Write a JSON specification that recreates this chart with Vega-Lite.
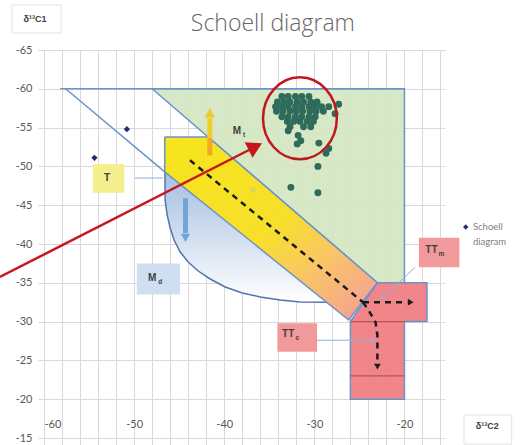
{
  "$schema": "https://vega.github.io/schema/vega-lite/v6.json",
  "width": 401,
  "height": 388,
  "autosize": {"type": "none"},
  "padding": {"left": 44, "top": 50, "right": 80, "bottom": 7},
  "background": "white",
  "config": {"view": {"stroke": null}, "font": "Lato"},
  "encoding": {
    "x": {"field": "x", "type": "quantitative",
      "scale": {"domain": [-60, -15.5], "nice": false, "zero": false},
      "axis": {"title": null, "values": [-60,-58,-56,-54,-52,-50,-48,-46,-44,-42,-40,-38,-36,-34,-32,-30,-28,-26,-24,-22,-20,-18,-16],
        "labelExpr": "datum.value % 10 === 0 ? '' + datum.value : ''",
        "grid": true, "gridColor": "#d9d9d9", "ticks": true, "tickColor": "#d9d9d9", "tickSize": 7,
        "domain": false, "labelPadding": -27, "labelFontSize": 11, "labelColor": "#595959", "labelFont": "Lato"}},
    "y": {"field": "y", "type": "quantitative",
      "scale": {"domain": [-65, -15], "nice": false, "zero": false, "reverse": true},
      "axis": {"title": null, "values": [-65,-60,-55,-50,-45,-40,-35,-30,-25,-20,-15],
        "labelExpr": "'' + datum.value",
        "grid": true, "gridColor": "#d9d9d9", "ticks": true, "tickColor": "#d9d9d9", "tickSize": 6,
        "domain": false, "labelPadding": 6, "labelFontSize": 11, "labelColor": "#595959", "labelFont": "Lato"}}
  },
  "layer": [
    {
      "data": {"values": [{"x": -48, "y": -60, "i": 0}, {"x": -20, "y": -60, "i": 1}, {"x": -20, "y": -35, "i": 2}, {"x": -23, "y": -35, "i": 3}, {"x": -48, "y": -60, "i": 4}]},
      "mark": {"type": "line", "fill": "#d3e6c1", "fillOpacity": 0.9, "stroke": "#6a93cb", "strokeWidth": 1.5},
      "encoding": {"order": {"field": "i"}}
    },
    {
      "data": {"values": [
        {"x": -46.6, "y": -53.5, "i": 0}, {"x": -46.56, "y": -45.67, "i": 1}, {"x": -46.33, "y": -43.73, "i": 2}, {"x": -46.0, "y": -42.06, "i": 3},
        {"x": -45.56, "y": -40.52, "i": 4}, {"x": -44.89, "y": -38.97, "i": 5}, {"x": -44.0, "y": -37.68, "i": 6}, {"x": -42.89, "y": -36.52, "i": 7},
        {"x": -41.56, "y": -35.49, "i": 8}, {"x": -39.89, "y": -34.46, "i": 9}, {"x": -38.0, "y": -33.69, "i": 10}, {"x": -36.0, "y": -33.17, "i": 11},
        {"x": -33.78, "y": -32.78, "i": 12}, {"x": -31.56, "y": -32.53, "i": 13}, {"x": -28.4, "y": -32.5, "i": 14}, {"x": -46.6, "y": -53.5, "i": 15}]},
      "mark": {"type": "line", "fill": {"gradient": "linear", "x1": 0, "y1": 0, "x2": 0, "y2": 1, "stops": [{"offset": 0, "color": "#97b3dc"}, {"offset": 0.35, "color": "#b6cae6"}, {"offset": 1, "color": "#ffffff"}]}, "stroke": "#4f73ad", "strokeWidth": 1.5},
      "encoding": {"order": {"field": "i"}}
    },
    {
      "data": {"values": [{"x": -58.2, "y": -60, "i": 0, "s": "top"}, {"x": -20, "y": -60, "i": 1, "s": "top"}, {"x": -57.6, "y": -60, "i": 0, "s": "diag"}, {"x": -46.6, "y": -49.3, "i": 1, "s": "diag"}]},
      "mark": {"type": "line", "stroke": "#6a93cb", "strokeWidth": 1.5},
      "encoding": {"detail": {"field": "s"}, "order": {"field": "i"}}
    },
    {
      "data": {"values": [{"x": -46.6, "y": -53.8, "i": 0}, {"x": -41.8, "y": -53.8, "i": 1}, {"x": -23, "y": -35, "i": 2}, {"x": -26.2, "y": -30.2, "i": 3}, {"x": -46.6, "y": -49.3, "i": 4}, {"x": -46.6, "y": -53.8, "i": 5}]},
      "mark": {"type": "line", "fill": {"gradient": "linear", "x1": 0, "y1": 0, "x2": 1, "y2": 1, "stops": [{"offset": 0, "color": "#f6e51c"}, {"offset": 0.5, "color": "#f7df2a"}, {"offset": 0.7, "color": "#f9c764"}, {"offset": 0.9, "color": "#f6a98a"}, {"offset": 1, "color": "#f2958a"}]}, "stroke": "#6a93cb", "strokeWidth": 1.5},
      "encoding": {"order": {"field": "i"}}
    },
    {
      "data": {"values": [{"x": -23, "y": -35, "i": 0}, {"x": -17.5, "y": -35, "i": 1}, {"x": -17.5, "y": -30, "i": 2}, {"x": -20, "y": -30, "i": 3}, {"x": -20, "y": -20, "i": 4}, {"x": -26, "y": -20, "i": 5}, {"x": -26, "y": -30, "i": 6}, {"x": -23, "y": -35, "i": 7}]},
      "mark": {"type": "line", "fill": "#ef7c80", "fillOpacity": 0.92, "stroke": "#6a93cb", "strokeWidth": 1.5},
      "encoding": {"order": {"field": "i"}}
    },
    {
      "data": {"values": [{"x": -26, "y": -30, "i": 0, "s": "a"}, {"x": -20, "y": -30, "i": 1, "s": "a"}, {"x": -26, "y": -23, "i": 0, "s": "b"}, {"x": -20, "y": -23, "i": 1, "s": "b"}]},
      "mark": {"type": "line", "stroke": "#c0504d", "strokeWidth": 1.3},
      "encoding": {"detail": {"field": "s"}, "order": {"field": "i"}}
    },
    {
      "data": {"values": [{"x": -36.8, "y": -47.0}]},
      "mark": {"type": "point", "shape": "square", "filled": true, "color": "#dcd650", "size": 30, "opacity": 0.9}
    },
    {
      "data": {"values": [
        {"x": -33.6, "y": -59.0}, {"x": -32.9, "y": -59.0}, {"x": -32.1, "y": -59.0}, {"x": -31.4, "y": -59.0}, {"x": -30.6, "y": -59.0},
        {"x": -34.1, "y": -58.3}, {"x": -33.4, "y": -58.3}, {"x": -32.7, "y": -58.3}, {"x": -31.9, "y": -58.3}, {"x": -31.2, "y": -58.3}, {"x": -30.4, "y": -58.3}, {"x": -29.7, "y": -58.3},
        {"x": -34.3, "y": -57.7}, {"x": -33.6, "y": -57.7}, {"x": -32.9, "y": -57.7}, {"x": -32.1, "y": -57.7}, {"x": -31.4, "y": -57.7}, {"x": -30.6, "y": -57.7}, {"x": -29.9, "y": -57.7}, {"x": -29.2, "y": -57.7}, {"x": -28.4, "y": -57.7}, {"x": -27.3, "y": -58.0},
        {"x": -34.2, "y": -57.1}, {"x": -33.5, "y": -57.1}, {"x": -32.7, "y": -57.1}, {"x": -32.0, "y": -57.1}, {"x": -31.3, "y": -57.1}, {"x": -30.5, "y": -57.1}, {"x": -29.8, "y": -57.1}, {"x": -29.0, "y": -57.1}, {"x": -27.7, "y": -56.8},
        {"x": -33.6, "y": -56.4}, {"x": -32.9, "y": -56.4}, {"x": -32.1, "y": -56.4}, {"x": -31.4, "y": -56.4}, {"x": -30.6, "y": -56.4}, {"x": -29.9, "y": -56.4},
        {"x": -33.0, "y": -55.8}, {"x": -32.3, "y": -55.8}, {"x": -31.6, "y": -55.8}, {"x": -30.8, "y": -55.8}, {"x": -30.1, "y": -55.8},
        {"x": -32.7, "y": -55.1}, {"x": -31.2, "y": -55.1}, {"x": -30.4, "y": -55.1},
        {"x": -32.9, "y": -54.6}, {"x": -31.8, "y": -54.0}, {"x": -31.5, "y": -53.3}, {"x": -31.9, "y": -52.9},
        {"x": -29.5, "y": -53.0}, {"x": -28.4, "y": -52.3}, {"x": -28.7, "y": -51.7}, {"x": -29.6, "y": -50.0},
        {"x": -32.6, "y": -47.3}, {"x": -29.6, "y": -46.6}
      ]},
      "mark": {"type": "point", "shape": "circle", "filled": true, "color": "#2f6b5b", "size": 48, "opacity": 1}
    },
    {
      "data": {"values": [{"x": -54.4, "y": -51.1}, {"x": -50.8, "y": -54.8}]},
      "mark": {"type": "point", "shape": "diamond", "filled": true, "color": "#1f2f6e", "size": 40, "opacity": 1}
    },
    {
      "data": {"values": [
        {"x": -43.8, "y": -50.8, "i": 0, "s": "main"}, {"x": -24.6, "y": -32.5, "i": 1, "s": "main"},
        {"x": -24.6, "y": -32.5, "i": 0, "s": "right"}, {"x": -19.7, "y": -32.5, "i": 1, "s": "right"},
        {"x": -24.6, "y": -32.5, "i": 0, "s": "down"}, {"x": -24.0, "y": -31.5, "i": 1, "s": "down"}, {"x": -23.2, "y": -29.9, "i": 2, "s": "down"}, {"x": -23.0, "y": -28.2, "i": 3, "s": "down"}, {"x": -23.0, "y": -24.6, "i": 4, "s": "down"}
      ]},
      "mark": {"type": "line", "stroke": "#1a1a1a", "strokeWidth": 2.5, "strokeDash": [6, 5]},
      "encoding": {"detail": {"field": "s"}, "order": {"field": "i"}}
    },
    {
      "data": {"values": [{"x": -19.3, "y": -32.5}]},
      "mark": {"type": "point", "shape": "triangle-right", "filled": true, "color": "#1a1a1a", "size": 45, "opacity": 1}
    },
    {
      "data": {"values": [{"x": -23.0, "y": -24.2}]},
      "mark": {"type": "point", "shape": "triangle-down", "filled": true, "color": "#1a1a1a", "size": 45, "opacity": 1}
    },
    {
      "data": {"values": [{"x": -41.6, "y": -56.2, "y2": -53.6}]},
      "mark": {"type": "rule", "color": "#f1cf2a", "strokeWidth": 5},
      "encoding": {"y2": {"field": "y2"}}
    },
    {
      "data": {"values": [{"x": -41.6, "y": -53.6, "y2": -51.4}]},
      "mark": {"type": "rule", "color": "#f5a623", "strokeWidth": 5},
      "encoding": {"y2": {"field": "y2"}}
    },
    {
      "data": {"values": [{"x": -41.6, "y": -56.9}]},
      "mark": {"type": "point", "shape": "triangle-up", "filled": true, "color": "#f0c92a", "size": 110, "opacity": 1}
    },
    {
      "data": {"values": [{"x": -44.3, "y": -45.9, "y2": -41.4}]},
      "mark": {"type": "rule", "color": "#6fa6da", "strokeWidth": 5},
      "encoding": {"y2": {"field": "y2"}}
    },
    {
      "data": {"values": [{"x": -44.3, "y": -40.8}]},
      "mark": {"type": "point", "shape": "triangle-down", "filled": true, "color": "#6fa6da", "size": 90, "opacity": 1}
    },
    {
      "data": {"values": [
        {"x": -49.9, "y": -48.5, "i": 0, "s": "T"}, {"x": -46.8, "y": -48.5, "i": 1, "s": "T"},
        {"x": -18.8, "y": -37.0, "i": 0, "s": "TTm"}, {"x": -22.2, "y": -33.3, "i": 1, "s": "TTm"},
        {"x": -29.7, "y": -27.6, "i": 0, "s": "TTc"}, {"x": -23.6, "y": -27.6, "i": 1, "s": "TTc"}
      ]},
      "mark": {"type": "line", "stroke": "#8fb0d8", "strokeWidth": 1},
      "encoding": {"detail": {"field": "s"}, "order": {"field": "i"}}
    },
    {
      "data": {"values": [{"x": -23.4, "y": -27.6}]},
      "mark": {"type": "point", "shape": "triangle-right", "filled": true, "color": "#8fb0d8", "size": 18, "opacity": 1}
    },
    {
      "data": {"values": [{"x": -22.4, "y": -33.1}]},
      "mark": {"type": "point", "shape": "triangle-up", "angle": 227, "filled": true, "color": "#8fb0d8", "size": 18, "opacity": 1}
    },
    {
      "data": {"values": [
        {"x": -54.56, "x2": -51.1, "y": -50.3, "y2": -46.6, "box": "T"},
        {"x": -49.7, "x2": -44.9, "y": -37.5, "y2": -33.5, "box": "Md"},
        {"x": -18.4, "x2": -13.9, "y": -40.8, "y2": -37.0, "box": "TTm"},
        {"x": -34.1, "x2": -29.7, "y": -29.8, "y2": -26.1, "box": "TTc"}
      ]},
      "mark": {"type": "rect"},
      "encoding": {
        "x2": {"field": "x2"}, "y2": {"field": "y2"},
        "fill": {"field": "box", "type": "nominal", "legend": null, "scale": {"domain": ["T", "Md", "TTm", "TTc"], "range": ["#f4ee8c", "#cfdef0", "#f29a9b", "#f29a9b"]}}
      }
    },
    {
      "data": {"values": [
        {"x": -53.0, "y": -48.5, "t": "T"},
        {"x": -38.6, "y": -54.6, "t": "M"},
        {"x": -48.0, "y": -35.6, "t": "M"},
        {"x": -17.0, "y": -39.2, "t": "TT"},
        {"x": -32.9, "y": -28.4, "t": "TT"}
      ]},
      "mark": {"type": "text", "fontSize": 10, "fontWeight": "bold", "color": "#404040", "font": "Liberation Sans"},
      "encoding": {"text": {"field": "t"}}
    },
    {
      "data": {"values": [
        {"x": -37.8, "y": -54.1, "t": "t"},
        {"x": -47.1, "y": -35.1, "t": "d"},
        {"x": -15.9, "y": -38.7, "t": "m"},
        {"x": -31.9, "y": -27.9, "t": "c"}
      ]},
      "mark": {"type": "text", "fontSize": 6.5, "fontWeight": "bold", "color": "#404040", "font": "Liberation Sans"},
      "encoding": {"text": {"field": "t"}}
    },
    {
      "data": {"values": [{"x": -31.6, "y": -56.2}]},
      "mark": {"type": "point", "shape": "M -0.9 0 A 0.9 1 0 1 1 0.9 0 A 0.9 1 0 1 1 -0.9 0 Z", "filled": false, "stroke": "#c0171f", "strokeWidth": 2.5, "size": 6724, "opacity": 1}
    },
    {
      "data": {"values": [{"x": -64.9, "y": -35.75, "i": 0}, {"x": -36.6, "y": -52.5, "i": 1}]},
      "mark": {"type": "line", "stroke": "#c8161d", "strokeWidth": 2.5},
      "encoding": {"order": {"field": "i"}}
    },
    {
      "data": {"values": [{"x": -36.55, "y": -52.55}]},
      "mark": {"type": "point", "shape": "triangle-up", "angle": 63, "filled": true, "color": "#c8161d", "size": 300, "opacity": 1}
    },
    {
      "data": {"values": [
        {"x": -63.56, "x2": -58.1, "y": -70.8, "y2": -67.2},
        {"x": -13.4, "x2": -8.1, "y": -17.96, "y2": -14.2}
      ]},
      "mark": {"type": "rect", "fill": "white", "stroke": "#e3e3e3", "strokeWidth": 1},
      "encoding": {"x2": {"field": "x2"}, "y2": {"field": "y2"}}
    },
    {
      "data": {"values": [
        {"x": -61.0, "y": -69.0, "t": "δ¹³C1"},
        {"x": -10.8, "y": -16.6, "t": "δ¹³C2"}
      ]},
      "mark": {"type": "text", "fontSize": 9, "fontWeight": "bold", "color": "#404040", "font": "Liberation Sans"},
      "encoding": {"text": {"field": "t"}}
    },
    {
      "data": {"values": [{"x": -34.6, "y": -68.3, "t": "Schoell diagram"}]},
      "mark": {"type": "text", "fontSize": 23, "fontWeight": 300, "color": "#666666", "font": "Open Sans", "align": "center", "baseline": "middle"},
      "encoding": {"text": {"field": "t"}}
    },
    {
      "data": {"values": [{"x": -13.2, "y": -42.2}]},
      "mark": {"type": "point", "shape": "diamond", "filled": true, "color": "#1f2f6e", "size": 30, "opacity": 1}
    },
    {
      "data": {"values": [{"x": -12.4, "y": -42.2, "t": "Schoell"}, {"x": -12.4, "y": -40.3, "t": "diagram"}]},
      "mark": {"type": "text", "align": "left", "fontSize": 9.5, "color": "#808080", "font": "Lato"},
      "encoding": {"text": {"field": "t"}}
    }
  ]
}
